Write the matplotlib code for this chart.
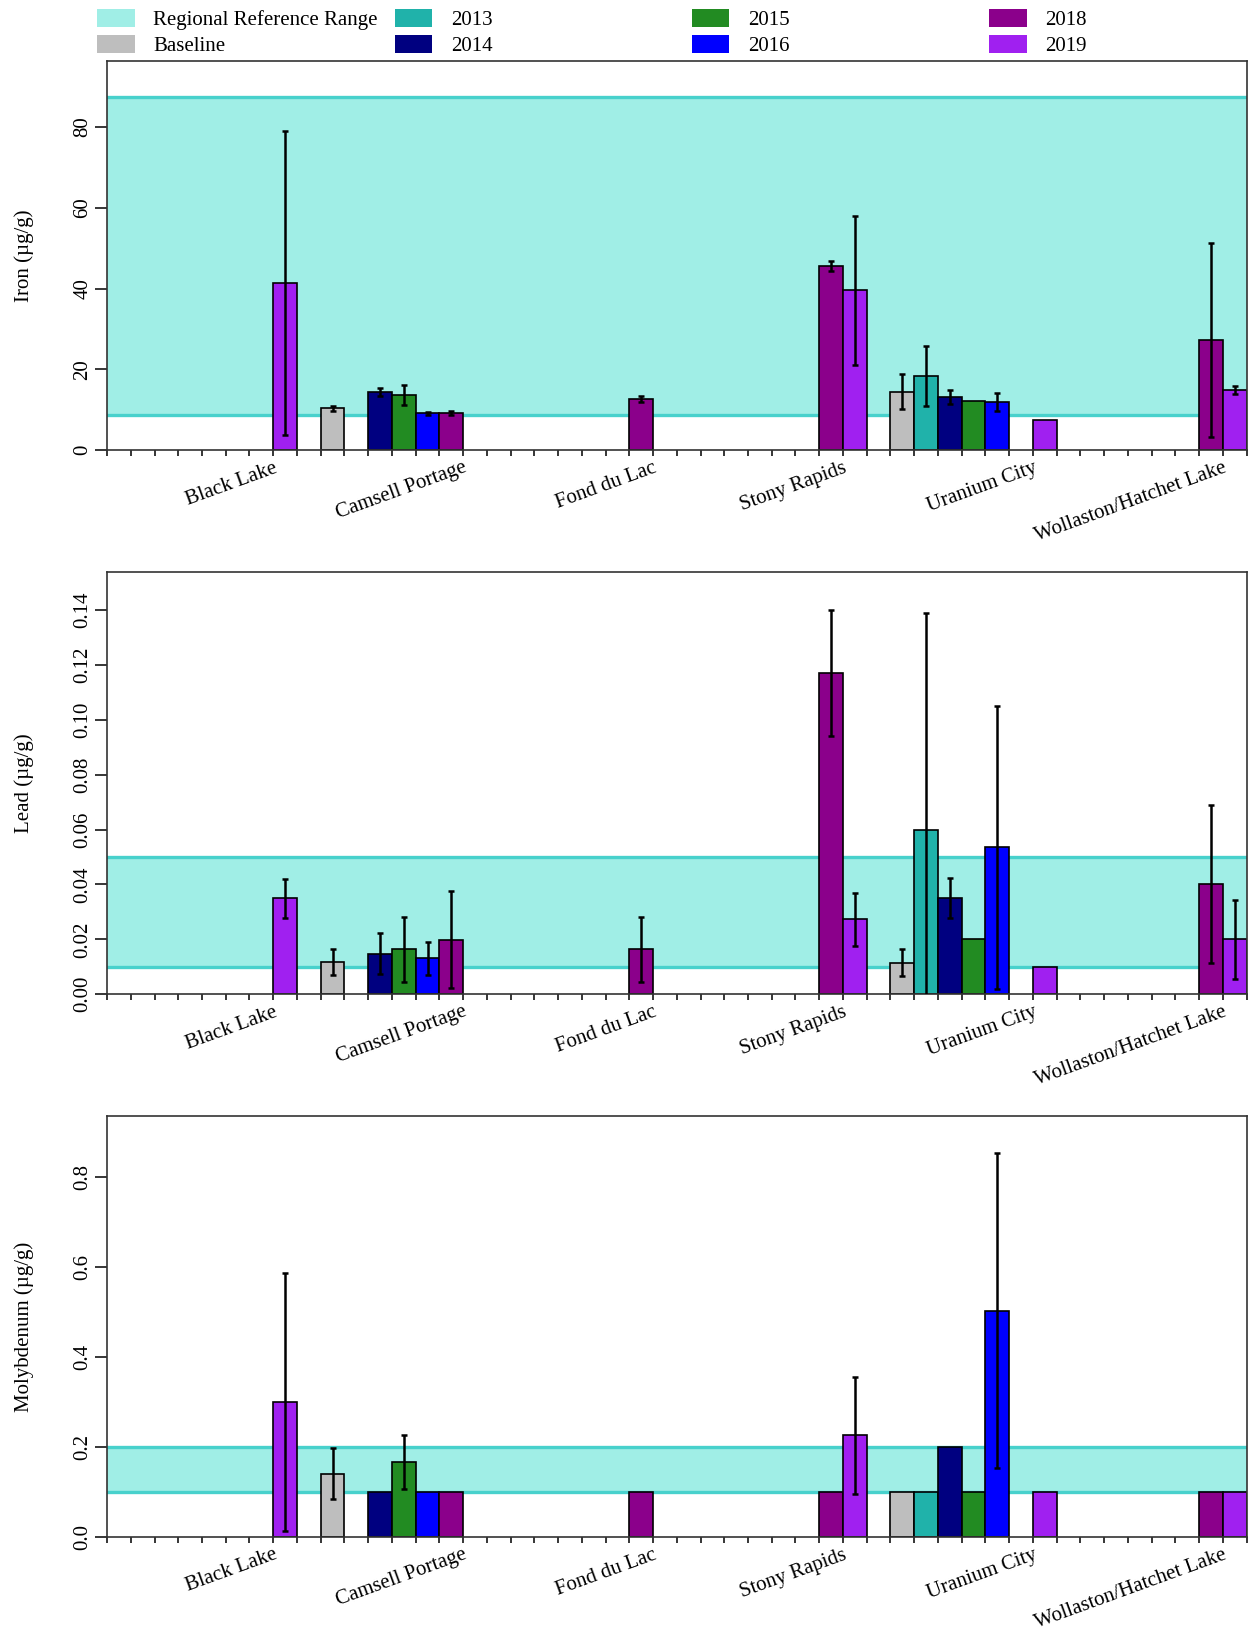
import numpy as np
import matplotlib.pyplot as plt
from matplotlib.patches import Patch
from matplotlib.ticker import FormatStrFormatter

# ================================================================
#  Metal concentrations by community and sampling year
# ================================================================

plt.rcParams['font.family'] = ['Liberation Serif', 'DejaVu Serif']
plt.rcParams['font.size'] = 15

nan = np.nan

communities = ['Black Lake', 'Camsell Portage', 'Fond du Lac',
               'Stony Rapids', 'Uranium City', 'Wollaston/Hatchet Lake']
series = ['Baseline', '2013', '2014', '2015', '2016', '2018', '2019']
series_colors = ['#BEBEBE', '#20B2AA', '#000080', '#228B22',
                 '#0000FF', '#8B008B', '#A020F0']

# rows = communities, columns = series
iron_mean = np.array([
    [nan,  nan,  nan,  nan,  nan,  nan,  41.4],
    [10.4, nan,  14.5, 13.7, 9.1,  9.1,  nan],
    [nan,  nan,  nan,  nan,  nan,  12.7, nan],
    [nan,  nan,  nan,  nan,  nan,  45.6, 39.6],
    [14.5, 18.4, 13.2, 12.2, 11.9, nan,  7.5],
    [nan,  nan,  nan,  nan,  nan,  27.2, 15.0],
])
iron_sd = np.array([
    [0,   0,   0,   0,   0,   0,   37.6],
    [0.6, 0,   1.0, 2.5, 0.3, 0.5, 0],
    [0,   0,   0,   0,   0,   0.7, 0],
    [0,   0,   0,   0,   0,   1.3, 18.4],
    [4.3, 7.4, 1.8, 0,   2.3, 0,   0],
    [0,   0,   0,   0,   0,   24.0, 1.0],
])

lead_mean = np.array([
    [nan,    nan,    nan,    nan,    nan,    nan,    0.035],
    [0.0117, nan,    0.0148, 0.0164, 0.0131, 0.0199, nan],
    [nan,    nan,    nan,    nan,    nan,    0.0164, nan],
    [nan,    nan,    nan,    nan,    nan,    0.117,  0.0273],
    [0.0115, 0.0599, 0.035,  0.020,  0.0536, nan,    0.010],
    [nan,    nan,    nan,    nan,    nan,    0.0402, 0.020],
])
lead_sd = np.array([
    [0,      0,     0,      0,      0,      0,      0.0071],
    [0.0048, 0,     0.0074, 0.0118, 0.006,  0.0176, 0],
    [0,      0,     0,      0,      0,      0.0119, 0],
    [0,      0,     0,      0,      0,      0.023,  0.0097],
    [0.005,  0.079, 0.0073, 0,      0.0516, 0,      0],
    [0,      0,     0,      0,      0,      0.0287, 0.0143],
])

moly_mean = np.array([
    [nan,   nan, nan, nan,    nan,   nan, 0.30],
    [0.141, nan, 0.1, 0.1665, 0.1,   0.1, nan],
    [nan,   nan, nan, nan,    nan,   0.1, nan],
    [nan,   nan, nan, nan,    nan,   0.1, 0.226],
    [0.1,   0.1, 0.2, 0.1,    0.503, nan, 0.1],
    [nan,   nan, nan, nan,    nan,   0.1, 0.1],
])
moly_sd = np.array([
    [0,     0, 0, 0,    0,    0, 0.286],
    [0.057, 0, 0, 0.06, 0,    0, 0],
    [0,     0, 0, 0,    0,    0, 0],
    [0,     0, 0, 0,    0,    0, 0.13],
    [0,     0, 0, 0,    0.35, 0, 0],
    [0,     0, 0, 0,    0,    0, 0],
])

# regional reference ranges (low, high)
iron_range = (8.6, 87.5)
lead_range = (0.01, 0.05)
moly_range = (0.1, 0.2)

band_fill = '#A0EEE6'
band_line = '#48D1CC'

panels = [
    ('Iron (µg/g)',       iron_mean, iron_sd, iron_range, 96.4,  [0, 20, 40, 60, 80], '%d'),
    ('Lead (µg/g)',       lead_mean, lead_sd, lead_range, 0.1538, np.arange(0, 0.141, 0.02), '%.2f'),
    ('Molybdenum (µg/g)', moly_mean, moly_sd, moly_range, 0.936, np.arange(0, 0.81, 0.2), '%.1f'),
]

# axes rectangles in figure fraction
rects = [
    [0.0857, 0.7258, 0.9123, 0.2372],
    [0.0857, 0.3945, 0.9123, 0.2570],
    [0.0857, 0.0639, 0.9123, 0.2566],
]

slots_per_group = len(series) + 1
n_slots = slots_per_group * len(communities)

fig = plt.figure(figsize=(12.49, 16.42), dpi=100)

for (ylabel, mean, sd, rng, ytop, yticks, fmt), rect in zip(panels, rects):
    ax = fig.add_axes(rect)

    # reference band
    ax.axhspan(rng[0], rng[1], color=band_fill, lw=0, zorder=0)
    for yv in rng:
        ax.axhline(yv, color=band_line, lw=2.4, zorder=1)

    # bars
    for s, (name, col) in enumerate(zip(series, series_colors)):
        x = 1 + slots_per_group * np.arange(len(communities)) + s + 0.5
        ax.bar(x, mean[:, s], width=1.0, color=col, edgecolor='black',
               linewidth=1.2, zorder=2)
        has_err = sd[:, s] > 0
        if has_err.any():
            ax.errorbar(x[has_err], mean[has_err, s], yerr=sd[has_err, s],
                        fmt='none', ecolor='black', elinewidth=1.8,
                        capsize=2.2, capthick=1.8, zorder=3)

    ax.set_xlim(0, n_slots)
    ax.set_ylim(0, ytop)
    ax.set_xticks(np.arange(0, n_slots + 1))
    ax.set_xticklabels([])
    ax.set_yticks(yticks)
    ax.yaxis.set_major_formatter(FormatStrFormatter(fmt))
    ax.tick_params(axis='y', length=8.5, width=1.1, pad=2, labelrotation=90,
                   labelsize=15)
    ax.tick_params(axis='x', length=4, width=1.1)
    for lab in ax.get_yticklabels():
        lab.set_va('center')
    for sp in ax.spines.values():
        sp.set_color('#333333')
        sp.set_linewidth(1.2)

    ax.set_ylabel(ylabel, fontsize=15)
    ax.yaxis.set_label_coords(-0.064, 0.5)

    # community labels
    for g, name in enumerate(communities):
        ax.annotate(name, xy=(slots_per_group * g + len(series), 0),
                    xycoords=('data', 'axes fraction'),
                    xytext=(0, -6), textcoords='offset points',
                    rotation=20, rotation_mode='anchor',
                    ha='right', va='top', fontsize=15)

# legend: four columns of two entries
legend_labels = ['Regional Reference Range'] + series
legend_colors = [band_fill] + series_colors
col_x = [0.0778, 0.3159, 0.5540, 0.7921]
for c in range(4):
    handles = [Patch(facecolor=legend_colors[i], edgecolor='none',
                     label=legend_labels[i])
               for i in (2 * c, 2 * c + 1)]
    fig.legend(handles=handles, loc='upper left',
               bbox_to_anchor=(col_x[c], 1 - 9 / 1642),
               frameon=False, fontsize=15, borderpad=0, borderaxespad=0,
               handlelength=1.8, handleheight=0.95, handletextpad=0.9,
               labelspacing=0.22)

fig.savefig('out.png', dpi=100)
